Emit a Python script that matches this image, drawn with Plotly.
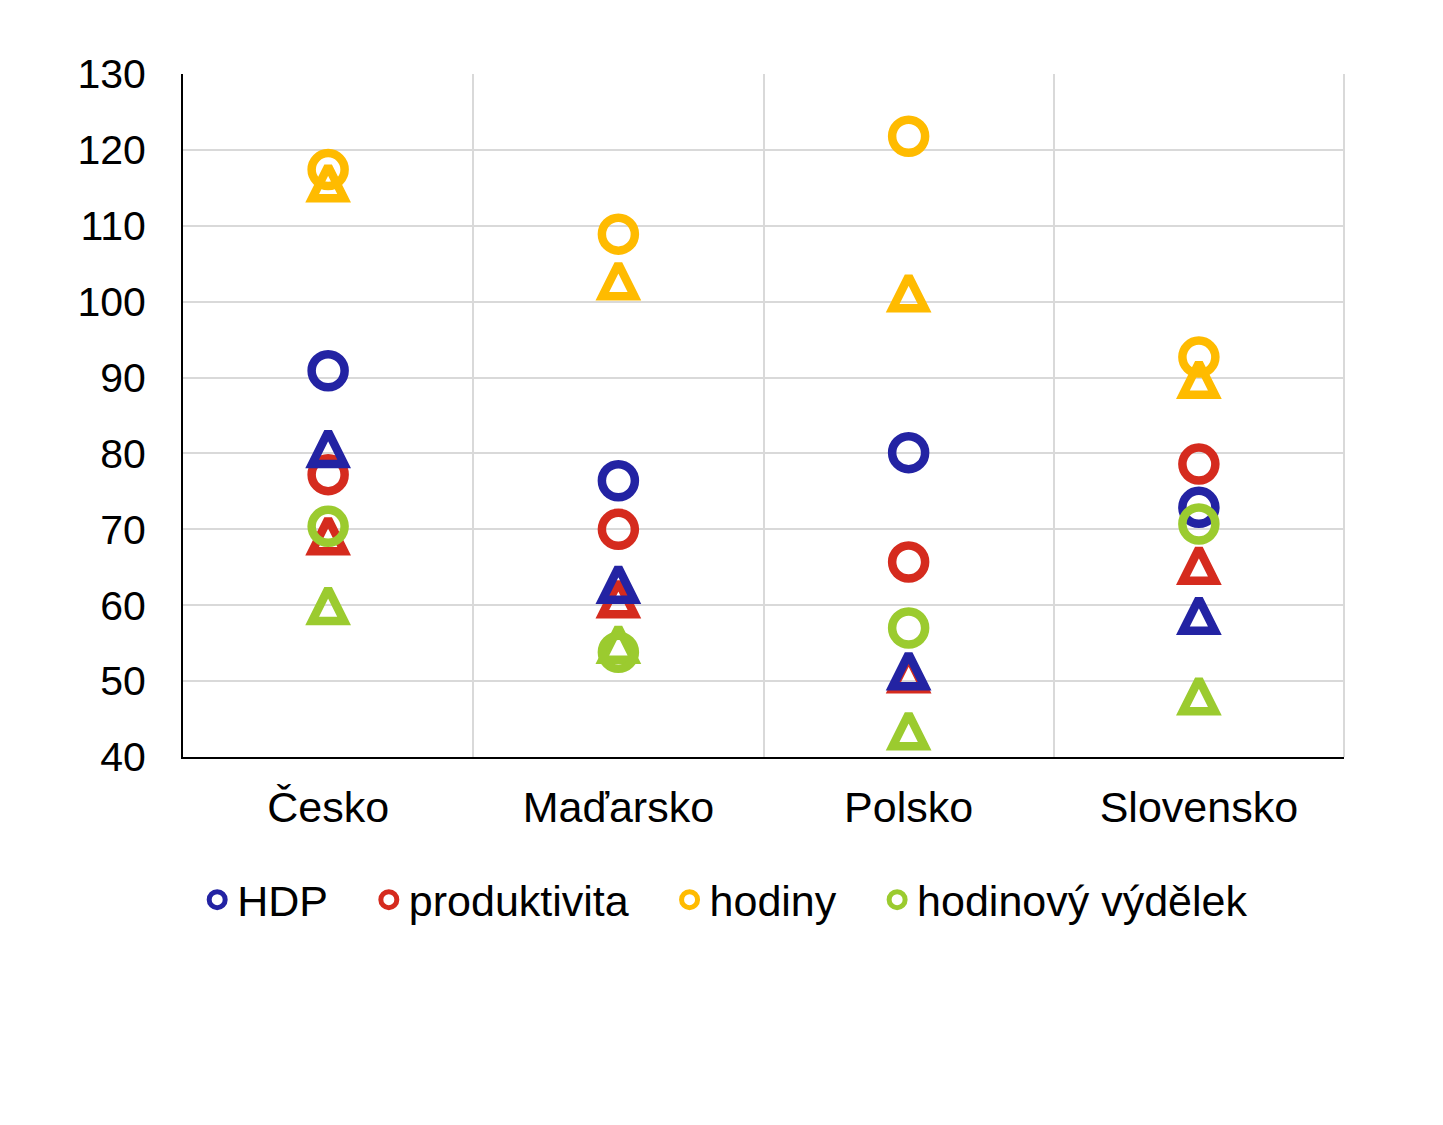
import plotly.graph_objects as go

countries = ["Česko", "Maďarsko", "Polsko", "Slovensko"]
series = ["HDP", "produktivita", "hodiny", "hodinový výdělek"]

# circles (shown in legend)
hdp_c = [90.9, 76.4, 80.1, 72.9]
prod_c = [77.2, 70.0, 65.7, 78.6]
hod_c = [117.4, 108.9, 121.8, 92.7]
vyd_c = [70.4, 53.8, 57.0, 70.7]
# triangles
hdp_t = [80.6, 62.7, 51.3, 58.6]
prod_t = [69.1, 60.8, 50.9, 65.2]
hod_t = [115.6, 102.7, 101.1, 89.7]
vyd_t = [59.9, 54.8, 43.4, 48.0]

colors = {"HDP": "#2323A3", "produktivita": "#D52B1E", "hodiny": "#FFBB00", "hodinový výdělek": "#9BCB2F"}
FONT = "Liberation Sans, Arial, sans-serif"
PAD = "\u00a0\u00a0\u00a0"
Y_RANGE = [40, 130]
TRI_SIZE = 32
LW = 8.5
# arrow-up markers hang below their tip; this overlay axis offset centres them on the value
tri_offset = (TRI_SIZE / 2 + 1) / (683 / (Y_RANGE[1] - Y_RANGE[0]))

fig = go.Figure()

def add(name, vals, kind, show, rank, yaxis):
    label = name + (PAD if name != series[-1] else "")
    if kind == "circle":
        marker = dict(symbol="circle-open", size=33, color=colors[name],
                      line=dict(color=colors[name], width=LW))
    else:
        marker = dict(symbol="arrow-up-open", size=TRI_SIZE, color=colors[name],
                      line=dict(color=colors[name], width=LW))
    fig.add_trace(go.Scatter(
        x=countries, y=vals, mode="markers", name=label, yaxis=yaxis,
        showlegend=show, legendrank=rank, marker=marker,
    ))

# bottom layer: circles
add("produktivita", prod_c, "circle", True, 2, "y")
add("HDP", hdp_c, "circle", True, 1, "y")
add("hodiny", hod_c, "circle", True, 3, "y")
# middle layer: triangles
add("produktivita", prod_t, "tri", False, 10, "y2")
add("HDP", hdp_t, "tri", False, 10, "y2")
add("hodiny", hod_t, "tri", False, 10, "y2")
add("hodinový výdělek", vyd_t, "tri", False, 10, "y2")
# top layer: earnings circles
add("hodinový výdělek", vyd_c, "circle", True, 4, "y3")

fig.update_layout(
    width=1443, height=1125,
    paper_bgcolor="white", plot_bgcolor="white",
    margin=dict(l=175, r=107, t=66, b=376),
    font=dict(family=FONT, size=41, color="black"),
    showlegend=True,
    legend=dict(orientation="h", x=0.467, xanchor="center", y=-0.209, yanchor="middle",
                font=dict(size=43), itemwidth=30, traceorder="normal",
                bgcolor="rgba(0,0,0,0)"),
    yaxis2=dict(overlaying="y", range=[Y_RANGE[0] - tri_offset, Y_RANGE[1] - tri_offset],
                visible=False, showgrid=False, zeroline=False),
    yaxis3=dict(overlaying="y", range=Y_RANGE, visible=False, showgrid=False, zeroline=False),
)
fig.update_xaxes(
    type="category", tickson="boundaries", showgrid=True, gridcolor="#D9D9D9", gridwidth=2,
    showline=True, linecolor="black", linewidth=2, ticks="", ticklabelstandoff=11,
    tickfont=dict(size=43),
    range=[-0.5, 3.5], mirror=False, zeroline=False,
)
fig.update_layout(yaxis=dict(
    range=Y_RANGE, dtick=10, tick0=40, showgrid=True, gridcolor="#D9D9D9", gridwidth=2,
    showline=True, linecolor="black", linewidth=2, ticks="", ticklabelstandoff=27,
    zeroline=False,
))
# right border line
fig.add_shape(type="line", xref="paper", yref="paper", x0=1, x1=1, y0=0, y1=1,
              line=dict(color="#D9D9D9", width=2), layer="below")

fig.write_html("out.html")
